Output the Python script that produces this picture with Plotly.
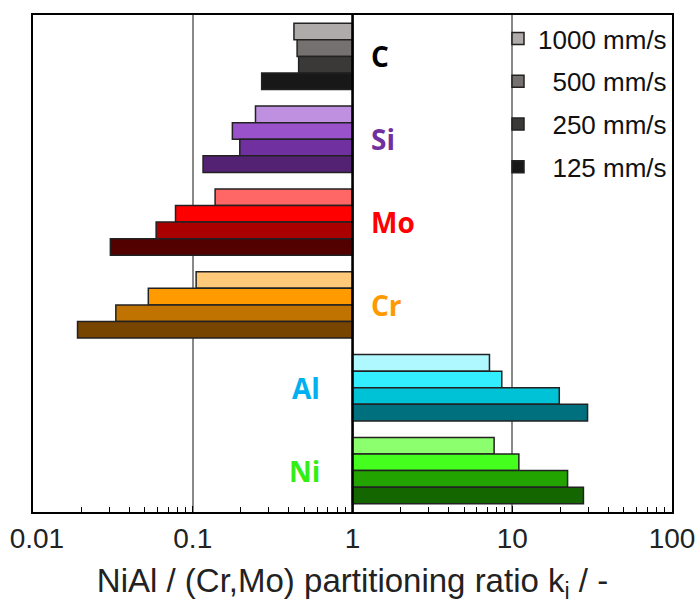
import math
import plotly.graph_objects as go

elements = ["C", "Si", "Mo", "Cr", "Al", "Ni"]
speeds = ["1000 mm/s", "500 mm/s", "250 mm/s", "125 mm/s"]
legend_names = ["1000 mm/s", "\u00a0\u00a0500 mm/s", "\u00a0\u00a0250 mm/s", "\u00a0\u00a0125 mm/s"]

k_1000 = [0.43, 0.247, 0.138, 0.105, 7.2, 7.7]
k_500 = [0.45, 0.177, 0.078, 0.0527, 8.6, 11.0]
k_250 = [0.46, 0.197, 0.059, 0.033, 19.7, 22.2]
k_125 = [0.27, 0.116, 0.0305, 0.019, 29.6, 27.9]
values = [k_1000, k_500, k_250, k_125]

col_1000 = ["#AFABAB", "#BE90DF", "#FF6666", "#FFC97A", "#B0F8FF", "#8CFF6E"]
col_500 = ["#767171", "#9A52CB", "#FF0000", "#FF9A00", "#33EEFF", "#44FF1E"]
col_250 = ["#3B3838", "#7030A0", "#AA0000", "#C07300", "#00C2D6", "#22A300"]
col_125 = ["#181818", "#542273", "#520000", "#774500", "#00707E", "#146600"]
colors = [col_1000, col_500, col_250, col_125]

label_colors = ["#000000", "#7030A0", "#FF0000", "#FF9900", "#00B0F0", "#33EE11"]

tick_vals = [0.01, 0.1, 1, 10, 100]
tick_text = ["\u00a00.01", "0.1", "1", "10", "100"]
minor_vals = [m * 10.0 ** e for e in range(-2, 2) for m in range(2, 10)]

FONT = "Liberation Sans, Arial, sans-serif"

fig = go.Figure()
n_el = len(elements)
slot = len(speeds) + 1
for s, (name, vals, cols) in enumerate(zip(legend_names, values, colors)):
    ypos = [slot * g + s + 1 for g in range(n_el)]
    fig.add_trace(go.Bar(
        orientation="h",
        y=ypos,
        x=[v - 1 for v in vals],
        base=1,
        width=1,
        name=name,
        legendgroup=speeds[s],
        marker=dict(color=cols, line=dict(color="#222222", width=1.5)),
    ))

annotations = []
for g, (el, col) in enumerate(zip(elements, label_colors)):
    positive = values[0][g] > 1
    annotations.append(dict(
        x=math.log10(0.64) if positive else math.log10(1.27),
        y=slot * g + 2.5,
        xref="x", yref="y",
        text=el, showarrow=False,
        xanchor="right" if positive else "left",
        yanchor="middle",
        font=dict(family="Open Sans, Noto Sans, sans-serif", size=28, color=col, weight="bold"),
    ))

fig.update_layout(
    width=696, height=604,
    margin=dict(l=33, r=24, t=15, b=92),
    plot_bgcolor="white", paper_bgcolor="white",
    barmode="overlay",
    showlegend=True,
    legend=dict(
        x=1.0, y=1.0, xanchor="right", yanchor="top",
        bgcolor="rgba(0,0,0,0)",
        font=dict(family=FONT, size=26, color="#111111"),
        traceorder="grouped", tracegroupgap=6,
        itemwidth=30,
    ),
    annotations=annotations,
    shapes=[dict(type="line", xref="x", yref="paper", x0=1, x1=1, y0=0, y1=1,
                 line=dict(color="black", width=2.5), layer="above")],
    xaxis=dict(
        type="log", range=[-2, 2], automargin=False,
        tickvals=tick_vals, ticktext=tick_text, ticklabeloverflow="allow",
        showgrid=True, gridcolor="#888888", gridwidth=1.5,
        showline=True, mirror=True, linecolor="black", linewidth=2,
        ticks="inside", ticklen=6, tickcolor="black",
        minor=dict(tickvals=minor_vals, ticks="inside", ticklen=5, tickcolor="black", showgrid=False),
        tickfont=dict(family=FONT, size=28, color="#222222"),
        title=dict(text="NiAl / (Cr,Mo) partitioning ratio k<sub>i</sub> / -",
                   font=dict(family=FONT, size=33, color="#222222"), standoff=21),
        zeroline=False,
    ),
    yaxis=dict(
        range=[slot * n_el, 0], automargin=False,
        showticklabels=False, showgrid=False, zeroline=False, ticks="",
        showline=True, mirror=True, linecolor="black", linewidth=2,
    ),
)

fig.write_html("out.html")
